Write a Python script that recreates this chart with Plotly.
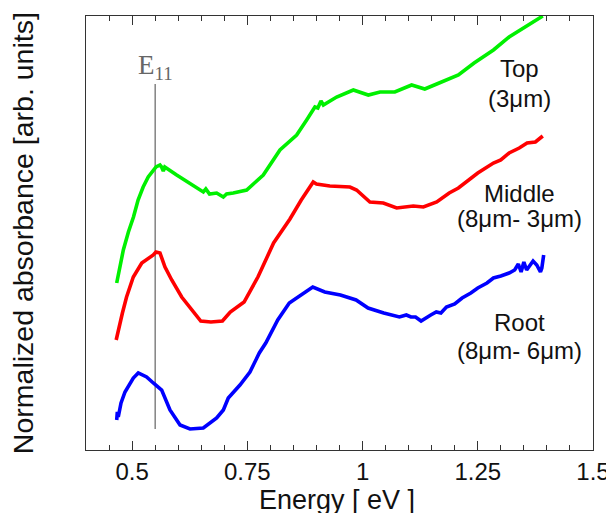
import plotly.graph_objects as go

# ---- data ----
top_x = [0.4666, 0.474, 0.481, 0.492, 0.503, 0.513, 0.524, 0.535, 0.5425, 0.552, 0.5605, 0.564, 0.5677, 0.571,
         0.5967, 0.6256, 0.6545, 0.660, 0.668, 0.6835, 0.690, 0.698, 0.705, 0.7195, 0.7486, 0.7738, 0.7846,
         0.8208, 0.857, 0.8787, 0.8967, 0.903, 0.9098, 0.915, 0.922, 0.9438, 0.980, 1.0125, 1.038, 1.070,
         1.1065, 1.135, 1.161, 1.19, 1.208, 1.242, 1.284, 1.318, 1.353, 1.391]
top_y = [1.67, 1.85, 2.00, 2.18, 2.33, 2.50, 2.63, 2.73, 2.78, 2.83, 2.85, 2.83, 2.79, 2.83,
         2.75, 2.67, 2.58, 2.61, 2.56, 2.57, 2.55, 2.53, 2.56, 2.57, 2.60, 2.70, 2.75,
         3.00, 3.15, 3.30, 3.43, 3.42, 3.49, 3.45, 3.47, 3.53, 3.60, 3.55, 3.58, 3.58,
         3.65, 3.61, 3.66, 3.71, 3.75, 3.87, 4.00, 4.13, 4.23, 4.34]

mid_x = [0.4655, 0.470, 0.479, 0.488, 0.5026, 0.521, 0.546, 0.5518, 0.5605, 0.5714, 0.586, 0.6076, 0.630, 0.649,
         0.671, 0.696, 0.713, 0.743, 0.773, 0.807, 0.8425, 0.867, 0.893, 0.900, 0.929, 0.9727, 0.987, 1.016,
         1.045, 1.074, 1.110, 1.132, 1.161, 1.188, 1.208, 1.250, 1.284, 1.300, 1.318, 1.340, 1.357, 1.375, 1.391]
mid_y = [1.10, 1.20, 1.37, 1.53, 1.73, 1.87, 1.95, 1.98, 1.97, 1.83, 1.70, 1.53, 1.40, 1.29,
         1.28, 1.29, 1.38, 1.48, 1.73, 2.07, 2.31, 2.50, 2.68, 2.66, 2.64, 2.63, 2.60, 2.48,
         2.47, 2.42, 2.44, 2.43, 2.48, 2.57, 2.62, 2.77, 2.87, 2.90, 2.97, 3.02, 3.07, 3.08, 3.14]

root_x = [0.4666, 0.468, 0.470, 0.4738, 0.476, 0.4846, 0.490, 0.5026, 0.5134, 0.5315, 0.546, 0.5642, 0.5822, 0.604,
          0.6256, 0.6545, 0.6835, 0.698, 0.7087, 0.734, 0.7557, 0.776, 0.790, 0.816, 0.841, 0.867, 0.892, 0.918,
          0.952, 0.986, 1.012, 1.046, 1.080, 1.095, 1.105, 1.115, 1.127, 1.148, 1.160, 1.170, 1.182, 1.200, 1.216,
          1.235, 1.250, 1.270, 1.284, 1.300, 1.318, 1.330, 1.338, 1.344, 1.350, 1.356, 1.361, 1.370, 1.378, 1.386,
          1.389, 1.393]
root_y = [0.30, 0.38, 0.33, 0.43, 0.47, 0.58, 0.62, 0.72, 0.77, 0.73, 0.67, 0.60, 0.40, 0.25,
          0.21, 0.22, 0.32, 0.40, 0.52, 0.65, 0.78, 0.97, 1.07, 1.30, 1.47, 1.55, 1.63, 1.58,
          1.55, 1.50, 1.42, 1.37, 1.33, 1.35, 1.33, 1.33, 1.29, 1.35, 1.38, 1.37, 1.43, 1.46, 1.52,
          1.57, 1.62, 1.67, 1.72, 1.74, 1.77, 1.80, 1.86, 1.78, 1.88, 1.80, 1.83, 1.89, 1.85, 1.78,
          1.82, 1.95]

e11_x = 0.55
e11_y = [0.21, 3.66]

x_tickvals = [0.5, 0.75, 1.0, 1.25, 1.5]
x_ticktext = ["0.5", "0.75", "1", "1.25", "1.5"]

labels = [("Top", 3.82), ("(3μm)", 3.52), ("Middle", 2.57), ("(8μm- 3μm)", 2.32),
          ("Root", 1.28), ("(8μm- 6μm)", 1.00)]
label_x = 1.34

FONT = "Liberation Sans, Arial, sans-serif"

fig = go.Figure()
fig.add_trace(go.Scatter(x=[e11_x, e11_x], y=e11_y, mode="lines",
                         line=dict(color="#444444", width=1), showlegend=False, hoverinfo="skip"))
fig.add_trace(go.Scatter(x=top_x, y=top_y, mode="lines", line=dict(color="#00f000", width=3.6), showlegend=False))
fig.add_trace(go.Scatter(x=mid_x, y=mid_y, mode="lines", line=dict(color="#ff0000", width=3.6), showlegend=False))
fig.add_trace(go.Scatter(x=root_x, y=root_y, mode="lines", line=dict(color="#0000ff", width=3.6), showlegend=False))

for txt, yy in labels:
    fig.add_annotation(x=label_x, y=yy, text=txt, showarrow=False, xanchor="center", yanchor="middle",
                       font=dict(family=FONT, size=24, color="#111111"))

fig.add_annotation(x=e11_x, y=3.83, text="E<sub>11</sub>", showarrow=False, xanchor="center", yanchor="middle",
                   font=dict(family="Liberation Serif, Times New Roman, serif", size=27, color="#666666"))

fig.add_annotation(xref="paper", yref="paper", x=-0.124, y=0.5, text="Normalized absorbance [arb. units]",
                   textangle=-90, showarrow=False, xanchor="center", yanchor="middle",
                   font=dict(family=FONT, size=28.5, color="#111111"))
fig.add_annotation(xref="paper", yref="paper", x=0.496, y=-0.116, text="Energy [ eV ]",
                   showarrow=False, xanchor="center", yanchor="middle",
                   font=dict(family=FONT, size=27, color="#111111"))

fig.update_layout(
    width=614, height=513,
    margin=dict(l=78, r=29, t=8, b=71),
    paper_bgcolor="white", plot_bgcolor="white",
    font=dict(family=FONT, size=24, color="#111111"),
    xaxis=dict(range=[0.4, 1.5], tickvals=x_tickvals, ticktext=x_ticktext,
               ticks="inside", ticklen=9, tickwidth=1, tickcolor="#333333",
               minor=dict(dtick=0.05, tick0=0.4, ticks="inside", ticklen=5, tickwidth=1, tickcolor="#333333"),
               showline=True, linecolor="#333333", linewidth=1, mirror="ticks",
               showgrid=False, zeroline=False, tickfont=dict(size=24)),
    yaxis=dict(range=[0, 4.34], showticklabels=False, ticks="",
               showline=True, linecolor="#333333", linewidth=1, mirror=True,
               showgrid=False, zeroline=False),
)

fig.write_html("out.html")
